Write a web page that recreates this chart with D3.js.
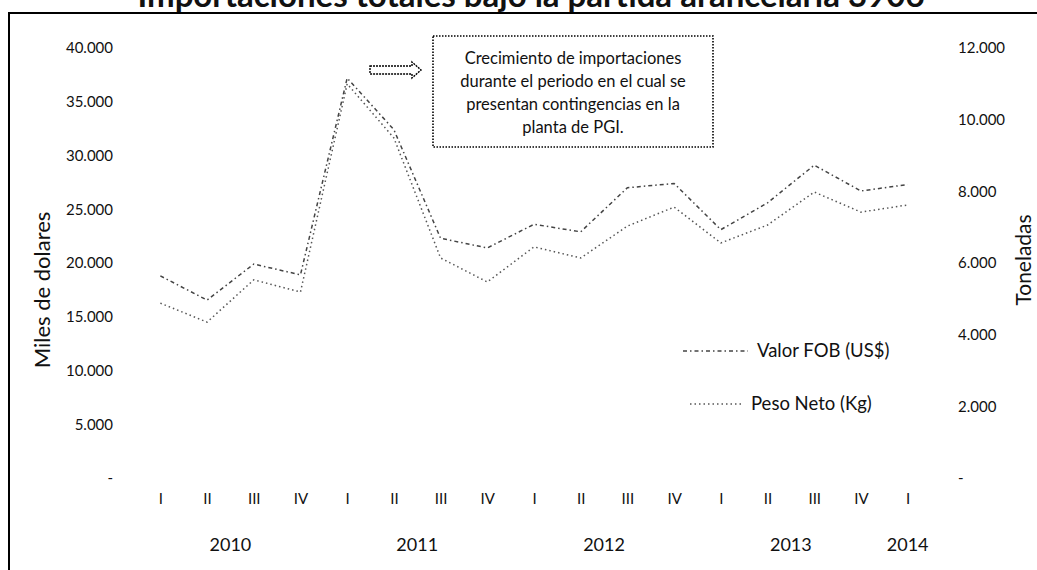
<!DOCTYPE html>
<meta charset="utf-8">
<html>
<head>
	<script src="https://cdn.jsdelivr.net/npm/d3@7/dist/d3.min.js"></script>
	<style>
		body { margin: 0; background: #fff; }
		svg text { font-family: Lato, "Open Sans", sans-serif; fill: #111; }
	</style>
</head>
<body>
	<svg id="chart" width="1037" height="570"></svg>
	<script>
		// quarters 2010 I .. 2014 I
		var quarters = ["I","II","III","IV","I","II","III","IV","I","II","III","IV","I","II","III","IV","I"];
		var years = ["2010","2010","2010","2010","2011","2011","2011","2011","2012","2012","2012","2012","2013","2013","2013","2013","2014"];

		// Valor FOB, miles de dolares (left axis)
		var valorFOB = [18800, 16550, 19900, 18900, 37200, 32400, 22300, 21400, 23600, 22900, 27000, 27400, 23100, 25600, 29100, 26700, 27300];
		// Peso Neto, toneladas (right axis)
		var pesoNeto = [4880, 4350, 5530, 5190, 11000, 9490, 6140, 5470, 6450, 6140, 7030, 7560, 6560, 7060, 7980, 7420, 7620];

		var leftTicks = [0, 5000, 10000, 15000, 20000, 25000, 30000, 35000, 40000];
		var rightTicks = [0, 2000, 4000, 6000, 8000, 10000, 12000];

		var noteLines = ["Crecimiento de importaciones", "durante el periodo en el cual se", "presentan contingencias en la", "planta de PGI."];

		var plot = {left: 137, right: 931, top: 48, bottom: 478};

		var es = d3.formatLocale({decimal: ",", thousands: ".", grouping: [3], currency: ["$", ""]});
		var fmt = es.format(",.0f");
		function tickFmt(d) { return d === 0 ? "-" : fmt(d); }

		var svg = d3.select("#chart");

		// frame
		svg.append("rect")
			.attr("x", 9).attr("y", 13)
			.attr("width", 1040).attr("height", 570)
			.attr("fill", "none")
			.attr("stroke", "#000")
			.attr("stroke-width", 2);

		// title (cut off at the top like the scan)
		svg.append("text")
			.attr("x", 531).attr("y", 7)
			.attr("text-anchor", "middle")
			.style("font-size", "33px")
			.style("font-weight", "bold")
			.text("Importaciones totales bajo la partida arancelaria 3906");

		var x = d3.scalePoint()
			.domain(d3.range(quarters.length))
			.range([plot.left, plot.right])
			.padding(0.5);

		var yL = d3.scaleLinear().domain([0, 40000]).range([plot.bottom, plot.top]);
		var yR = d3.scaleLinear().domain([0, 12000]).range([plot.bottom, plot.top]);

		// left axis
		var gL = svg.append("g")
			.attr("transform", "translate(" + 118 + ",0)")
			.call(d3.axisLeft(yL).tickValues(leftTicks).tickFormat(tickFmt).tickSize(0).tickPadding(5));
		gL.select(".domain").remove();
		gL.selectAll("text").style("font-size", "15px").style("font-family", "Lato, 'Open Sans', sans-serif");

		// right axis
		var gR = svg.append("g")
			.attr("transform", "translate(" + 953 + ",0)")
			.call(d3.axisRight(yR).tickValues(rightTicks).tickFormat(tickFmt).tickSize(0).tickPadding(5));
		gR.select(".domain").remove();
		gR.selectAll("text").style("font-size", "15px").style("font-family", "Lato, 'Open Sans', sans-serif");

		// quarter axis
		var gX = svg.append("g")
			.attr("transform", "translate(0," + plot.bottom + ")")
			.call(d3.axisBottom(x).tickFormat(function(i) { return quarters[i]; }).tickSize(0).tickPadding(15));
		gX.select(".domain").remove();
		gX.selectAll("text").style("font-size", "15px").style("font-family", "Lato, 'Open Sans', sans-serif");

		// year labels centred under their quarters
		var yearGroups = d3.groups(d3.range(years.length), function(i) { return years[i]; });
		svg.append("g").selectAll("text")
			.data(yearGroups)
			.join("text")
				.attr("x", function(d) { return d3.mean(d[1], function(i) { return x(i); }); })
				.attr("y", 551)
				.attr("text-anchor", "middle")
				.style("font-size", "18px")
				.text(function(d) { return d[0]; });

		// axis titles
		svg.append("text")
			.attr("transform", "translate(50,290) rotate(-90)")
			.attr("text-anchor", "middle")
			.style("font-size", "22px")
			.text("Miles de dolares");
		svg.append("text")
			.attr("transform", "translate(1031,260) rotate(-90)")
			.attr("text-anchor", "middle")
			.style("font-size", "21px")
			.text("Toneladas");

		// lines
		var lineL = d3.line()
			.x(function(d, i) { return x(i); })
			.y(function(d) { return yL(d); });
		var lineR = d3.line()
			.x(function(d, i) { return x(i); })
			.y(function(d) { return yR(d); });

		svg.append("path")
			.datum(pesoNeto)
			.attr("d", lineR)
			.attr("fill", "none")
			.attr("stroke", "#555")
			.attr("stroke-width", 1.5)
			.attr("stroke-dasharray", "1.5,3");

		svg.append("path")
			.datum(valorFOB)
			.attr("d", lineL)
			.attr("fill", "none")
			.attr("stroke", "#444")
			.attr("stroke-width", 1.5)
			.attr("stroke-dasharray", "4,3,1.5,3");

		// legend
		var legend = svg.append("g");
		legend.append("line")
			.attr("x1", 683).attr("x2", 748).attr("y1", 351).attr("y2", 351)
			.attr("stroke", "#444").attr("stroke-width", 1.5).attr("stroke-dasharray", "4,3,1.5,3");
		legend.append("text")
			.attr("x", 757).attr("y", 357)
			.style("font-size", "18.5px")
			.text("Valor FOB (US$)");
		legend.append("line")
			.attr("x1", 690).attr("x2", 742).attr("y1", 404).attr("y2", 404)
			.attr("stroke", "#555").attr("stroke-width", 1.5).attr("stroke-dasharray", "1.5,3");
		legend.append("text")
			.attr("x", 751).attr("y", 410)
			.style("font-size", "18.5px")
			.text("Peso Neto (Kg)");

		// annotation box
		svg.append("rect")
			.attr("x", 433).attr("y", 36)
			.attr("width", 280).attr("height", 111)
			.attr("fill", "none")
			.attr("stroke", "#000")
			.attr("stroke-width", 1.6)
			.attr("stroke-dasharray", "1.5,1.5");
		svg.append("g").selectAll("text")
			.data(noteLines)
			.join("text")
				.attr("x", 573)
				.attr("y", function(d, i) { return 64 + i * 23; })
				.attr("text-anchor", "middle")
				.style("font-size", "16.5px")
				.text(function(d) { return d; });

		// block arrow pointing at the box
		svg.append("path")
			.attr("d", "M370,66 L412,66 L412,62 L421,70 L412,78 L412,74 L370,74 Z")
			.attr("fill", "#fff")
			.attr("stroke", "#000")
			.attr("stroke-width", 1.4)
			.attr("stroke-dasharray", "2,1");
	</script>
</body>
</html>
